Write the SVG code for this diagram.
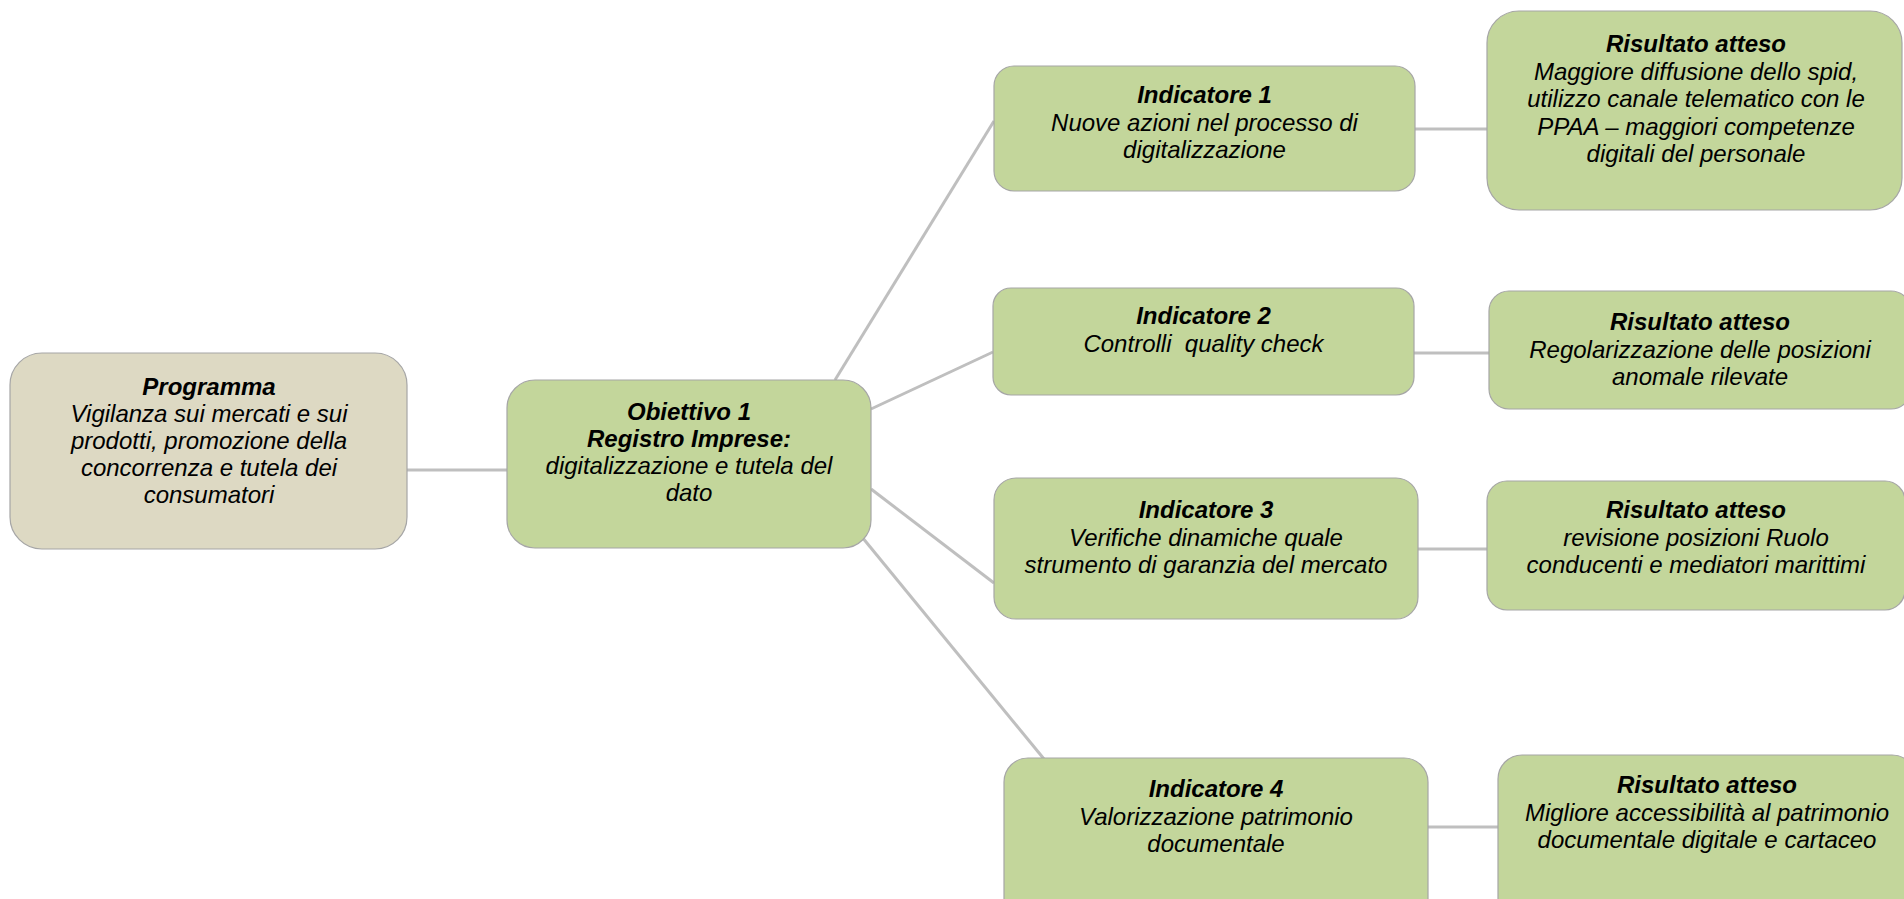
<svg xmlns="http://www.w3.org/2000/svg" width="1904" height="899" viewBox="0 0 1904 899">
<style>
.box{stroke:#a6a6a6;stroke-width:1.2}
.tan{fill:#ddd9c3}
.grn{fill:#c3d69b}
.conn{stroke:#bfbfbf;stroke-width:3;fill:none}
text{font-family:"Liberation Sans",Arial,sans-serif;font-size:24px;font-style:italic;fill:#000;text-anchor:middle}
.t{font-weight:bold}
</style>
<rect width="1904" height="899" fill="#ffffff"/>
<g id="connectors">
<line class="conn" x1="407" y1="470" x2="507" y2="470"/>
<line class="conn" x1="835" y1="380" x2="994" y2="121"/>
<line class="conn" x1="871" y1="409" x2="993" y2="352"/>
<line class="conn" x1="871" y1="489" x2="994" y2="583"/>
<line class="conn" x1="862" y1="537" x2="1044" y2="759"/>
<line class="conn" x1="1415" y1="129" x2="1487" y2="129"/>
<line class="conn" x1="1414" y1="353" x2="1489" y2="353"/>
<line class="conn" x1="1418" y1="549" x2="1487" y2="549"/>
<line class="conn" x1="1428" y1="827" x2="1498" y2="827"/>
</g>
<g id="programma">
<rect class="box tan" x="10" y="353" width="397" height="196" rx="32"/>
<text x="209" y="395"><tspan class="t">Programma</tspan><tspan x="209" dy="27">Vigilanza sui mercati e sui</tspan><tspan x="209" dy="27">prodotti, promozione della</tspan><tspan x="209" dy="27">concorrenza e tutela dei</tspan><tspan x="209" dy="27">consumatori</tspan></text>
</g>
<g id="obiettivo1">
<rect class="box grn" x="507" y="380" width="364" height="168" rx="28"/>
<text x="689" y="420"><tspan class="t">Obiettivo 1</tspan><tspan x="689" dy="27" class="t">Registro Imprese:</tspan><tspan x="689" dy="27">digitalizzazione e tutela del</tspan><tspan x="689" dy="27">dato</tspan></text>
</g>
<g id="indicatore1">
<rect class="box grn" x="994" y="66" width="421" height="125" rx="20"/>
<text x="1204.5" y="103"><tspan class="t">Indicatore 1</tspan><tspan x="1204.5" dy="27.5">Nuove azioni nel processo di</tspan><tspan x="1204.5" dy="27.5">digitalizzazione</tspan></text>
</g>
<g id="risultato1">
<rect class="box grn" x="1487" y="11" width="415" height="199" rx="32"/>
<text x="1696" y="52"><tspan class="t">Risultato atteso</tspan><tspan x="1696" dy="27.5">Maggiore diffusione dello spid,</tspan><tspan x="1696" dy="27.5">utilizzo canale telematico con le</tspan><tspan x="1696" dy="27.5">PPAA – maggiori competenze</tspan><tspan x="1696" dy="27.5">digitali del personale</tspan></text>
</g>
<g id="indicatore2">
<rect class="box grn" x="993" y="288" width="421" height="107" rx="18"/>
<text x="1203.5" y="324"><tspan class="t">Indicatore 2</tspan><tspan x="1203.5" dy="27.5" style="white-space:pre">Controlli  quality check</tspan></text>
</g>
<g id="risultato2">
<rect class="box grn" x="1489" y="291" width="422" height="118" rx="20"/>
<text x="1700" y="330"><tspan class="t">Risultato atteso</tspan><tspan x="1700" dy="27.5">Regolarizzazione delle posizioni</tspan><tspan x="1700" dy="27.5">anomale rilevate</tspan></text>
</g>
<g id="indicatore3">
<rect class="box grn" x="994" y="478" width="424" height="141" rx="22"/>
<text x="1206" y="518"><tspan class="t">Indicatore 3</tspan><tspan x="1206" dy="27.5">Verifiche dinamiche quale</tspan><tspan x="1206" dy="27.5">strumento di garanzia del mercato</tspan></text>
</g>
<g id="risultato3">
<rect class="box grn" x="1487" y="481" width="418" height="129" rx="20"/>
<text x="1696" y="518"><tspan class="t">Risultato atteso</tspan><tspan x="1696" dy="27.5">revisione posizioni Ruolo</tspan><tspan x="1696" dy="27.5">conducenti e mediatori marittimi</tspan></text>
</g>
<g id="indicatore4">
<rect class="box grn" x="1004" y="758" width="424" height="170" rx="24"/>
<text x="1216" y="797"><tspan class="t">Indicatore 4</tspan><tspan x="1216" dy="27.5">Valorizzazione patrimonio</tspan><tspan x="1216" dy="27.5">documentale</tspan></text>
</g>
<g id="risultato4">
<rect class="box grn" x="1498" y="755" width="418" height="170" rx="24"/>
<text x="1707" y="793"><tspan class="t">Risultato atteso</tspan><tspan x="1707" dy="27.5">Migliore accessibilità al patrimonio</tspan><tspan x="1707" dy="27.5">documentale digitale e cartaceo</tspan></text>
</g>
</svg>
